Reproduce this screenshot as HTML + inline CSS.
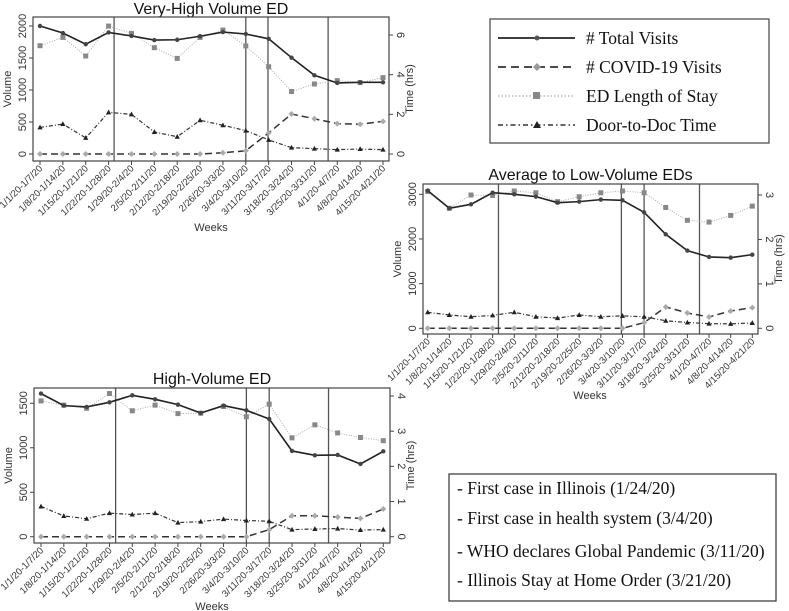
<!DOCTYPE html>
<html><head><meta charset="utf-8"><style>
body{margin:0;background:#fff;}
svg{display:block;font-family:"Liberation Sans",sans-serif;}
.lg{font-family:"Liberation Serif",serif;font-size:17.5px;fill:#111;}
</style></head><body>
<svg id="c" width="789" height="611" viewBox="0 0 789 611">
<g>
<rect x="490" y="19" width="279" height="124" fill="#fff" stroke="#444" stroke-width="1.2"/>
<line x1="498" y1="38" x2="575" y2="38" stroke="#222" stroke-width="1.8"/><circle cx="537" cy="38" r="2.5" fill="#555"/>
<text class="lg" x="586" y="44">&#35; Total Visits</text>
<line x1="498" y1="67" x2="575" y2="67" stroke="#333" stroke-width="1.8" stroke-dasharray="8,5"/><path d="M537,63 L541,67 L537,71 L533,67Z" fill="#999"/>
<text class="lg" x="586" y="73">&#35; COVID-19 Visits</text>
<line x1="498" y1="96" x2="575" y2="96" stroke="#aaa" stroke-width="1.2" stroke-dasharray="1.5,2"/><rect x="533" y="92" width="7" height="7" fill="#888"/>
<text class="lg" x="586" y="102">ED Length of Stay</text>
<line x1="498" y1="125" x2="575" y2="125" stroke="#333" stroke-width="1.5" stroke-dasharray="5,3,1.5,3"/><path d="M537,121 L541,128 L533,128Z" fill="#222"/>
<text class="lg" x="586" y="131">Door-to-Doc Time</text>
</g>
<g>
<rect x="449" y="474" width="327" height="127" fill="#fff" stroke="#333" stroke-width="1.2"/>
<text class="lg" x="457" y="494">- First case in Illinois (1/24/20)</text>
<text class="lg" x="457" y="524">- First case in health system (3/4/20)</text>
<text class="lg" x="457" y="557">- WHO declares Global Pandemic (3/11/20)</text>
<text class="lg" x="457" y="586">- Illinois Stay at Home Order (3/21/20)</text>
</g>
</svg>
<script>
const categories=["1/1/20-1/7/20","1/8/20-1/14/20","1/15/20-1/21/20","1/22/20-1/28/20","1/29/20-2/4/20","2/5/20-2/11/20","2/12/20-2/18/20","2/19/20-2/25/20","2/26/20-3/3/20","3/4/20-3/10/20","3/11/20-3/17/20","3/18/20-3/24/20","3/25/20-3/31/20","4/1/20-4/7/20","4/8/20-4/14/20","4/15/20-4/21/20"];
const vhTotal=[2000,1890,1715,1900,1845,1780,1785,1840,1905,1875,1800,1505,1230,1110,1120,1120];
const vhCovid=[0,0,0,0,0,0,0,0,20,50,330,625,550,475,465,510];
const vhLos=[5.46,5.88,4.94,6.45,6.08,5.36,4.82,5.88,6.25,5.45,4.40,3.15,3.53,3.70,3.60,3.85];
const vhD2d=[1.34,1.51,0.81,2.1,2.0,1.11,0.87,1.70,1.45,1.18,0.71,0.32,0.27,0.22,0.25,0.22];
const vhEvents=[3.24,9.0,9.97,12.6];
const vhLeftTicks=[0,500,1000,1500,2000];
const vhRightTicks=[0,2,4,6];
const alTotal=[3082,2687,2776,3037,3000,2948,2813,2836,2881,2866,2597,2104,1739,1597,1582,1649];
const alCovid=[0,0,0,0,0,0,0,0,0,0,127,478,343,254,388,463];
const alLos=[3.08,2.7,3.0,2.99,3.09,3.05,2.85,2.96,3.05,3.09,3.05,2.72,2.43,2.39,2.54,2.75];
const alD2d=[0.36,0.30,0.26,0.29,0.36,0.26,0.23,0.30,0.26,0.28,0.26,0.17,0.13,0.105,0.1,0.12];
const alEvents=[3.27,8.95,10.0,12.56];
const alLeftTicks=[0,1000,2000,3000];
const alRightTicks=[0,1,2,3];
const hvTotal=[1609,1474,1459,1511,1590,1545,1485,1391,1474,1421,1324,964,915,919,818,960];
const hvCovid=[0,0,0,0,0,0,0,0,0,0,79,236,236,220,206,311];
const hvLos=[3.86,3.74,3.65,4.07,3.58,3.74,3.50,3.51,3.70,3.41,3.77,2.81,3.18,2.95,2.82,2.73];
const hvD2d=[0.86,0.59,0.51,0.67,0.63,0.67,0.40,0.43,0.50,0.46,0.44,0.20,0.22,0.23,0.19,0.20];
const hvEvents=[3.27,9.0,10.0,12.6];
const hvLeftTicks=[0,500,1000,1500];
const hvRightTicks=[0,1,2,3,4];

const NS="http://www.w3.org/2000/svg";
const svg=document.getElementById('c');
function mk(tag,attrs,parent,txt){const e=document.createElementNS(NS,tag);for(const k in attrs)e.setAttribute(k,attrs[k]);if(txt!==undefined)e.textContent=txt;parent.appendChild(e);return e;}

function chart(cfg){
  const g=mk('g',{},svg);
  
  
  const [L,T,R,B]=cfg.box;
  const n=categories.length;
  const xs=i=>cfg.x0+(cfg.x1-cfg.x0)*i/(n-1);
  const yv=v=>cfg.base-(cfg.base-cfg.vTopY)*v/cfg.vTop;
  const yh=h=>cfg.base-(cfg.base-cfg.hTopY)*h/cfg.hTop;
  const t=mk('text',{x:(L+R)/2,y:cfg.titleY,'text-anchor':'middle','font-size':16,fill:'#111'},g,cfg.title);
  
  
  cfg.events.forEach(e=>{const l=mk('line',{x1:xs(e),x2:xs(e),y1:T,y2:B,stroke:'#555','stroke-width':1.3},g);
    
    });
  function series(vals,fy,style,marker,name){
    const pts=vals.map((v,i)=>[xs(i),fy(v)]);
    const p=mk('polyline',Object.assign({points:pts.map(q=>q.join(',')).join(' '),fill:'none'},style),g);
    
    
    pts.forEach(([x,y])=>{let m;
      if(marker==='c')m=mk('circle',{cx:x,cy:y,r:2.2,fill:'#444'},g);
      else if(marker==='d')m=mk('path',{d:`M${x},${y-3}L${x+3},${y}L${x},${y+3}L${x-3},${y}Z`,fill:'#aaa'},g);
      else if(marker==='s')m=mk('rect',{x:x-2.5,y:y-2.5,width:5,height:5,fill:'#888'},g);
      else m=mk('path',{d:`M${x},${y-2.8}L${x+2.6},${y+2}L${x-2.6},${y+2}Z`,fill:'#222'},g);
      
      });
  }
  series(cfg.d2d,yh,{stroke:'#333','stroke-width':1.2,'stroke-dasharray':'4,2,1,2'},'t','door-to-doc');
  series(cfg.los,yh,{stroke:'#aaa','stroke-width':1,'stroke-dasharray':'1,1.5'},'s','length-of-stay');
  series(cfg.covid,yv,{stroke:'#333','stroke-width':1.5,'stroke-dasharray':'7,4'},'d','covid-visits');
  series(cfg.total,yv,{stroke:'#222','stroke-width':1.6},'c','total-visits');
  const bx=mk('rect',{x:L,y:T,width:R-L,height:B-T,fill:'none',stroke:'#444','stroke-width':1.2},g);
  
  
  cfg.left.forEach(v=>{const y=yv(v);mk('line',{x1:L-4,x2:L,y1:y,y2:y,stroke:'#444'},g);
    const tx=mk('text',{x:L-7,y:y,'text-anchor':'middle','font-size':11,fill:'#333',transform:`rotate(-90 ${L-7} ${y})`},g,String(v));
    
    });
  cfg.right.forEach(v=>{const y=yh(v);mk('line',{x1:R,x2:R+4,y1:y,y2:y,stroke:'#444'},g);
    const tx=mk('text',{x:R+8,y:y,'text-anchor':'middle','font-size':11,fill:'#333',transform:`rotate(90 ${R+8} ${y})`},g,String(v));
    
    });
  categories.forEach((c,i)=>{const x=xs(i);mk('line',{x1:x,x2:x,y1:B,y2:B+4,stroke:'#444'},g);
    const tx=mk('text',{x:x+3,y:B+8,'text-anchor':'end','font-size':9.5,fill:'#333',transform:`rotate(-45 ${x+3} ${B+8})`},g,c);
    
    });
  const wk=mk('text',{x:cfg.weeksX,y:cfg.weeksY,'text-anchor':'middle','font-size':11,fill:'#333'},g,'Weeks');
  
  
  const vx=L-22,vy=(T+B)/2;
  const vl=mk('text',{x:vx,y:vy,'text-anchor':'middle','font-size':11,fill:'#333',transform:`rotate(-90 ${vx} ${vy})`},g,'Volume');
  
  
  const rx=R+24;
  const rl=mk('text',{x:rx,y:vy,'text-anchor':'middle','font-size':11,fill:'#333',transform:`rotate(-90 ${rx} ${vy})`},g,'Time (hrs)');
  
  
}
chart({name:'very-high-volume-chart',title:'Very-High Volume ED',titleY:14,box:[33,17,389,161],x0:40,x1:383,base:154,vTop:2000,vTopY:26,hTop:6,hTopY:35,
  total:vhTotal,covid:vhCovid,los:vhLos,d2d:vhD2d,events:vhEvents,left:vhLeftTicks,right:vhRightTicks,weeksX:211,weeksY:231});
chart({name:'average-low-volume-chart',title:'Average to Low-Volume EDs',titleY:180,box:[423,184,758,334],x0:427.7,x1:752.3,base:328.3,vTop:3000,vTopY:194.3,hTop:3,hTopY:195,
  total:alTotal,covid:alCovid,los:alLos,d2d:alD2d,events:alEvents,left:alLeftTicks,right:alRightTicks,weeksX:590,weeksY:399});
chart({name:'high-volume-chart',title:'High-Volume ED',titleY:384,box:[34,388,390,543],x0:41,x1:383.3,base:536.7,vTop:1500,vTopY:403.3,hTop:4,hTopY:396,
  total:hvTotal,covid:hvCovid,los:hvLos,d2d:hvD2d,events:hvEvents,left:hvLeftTicks,right:hvRightTicks,weeksX:212,weeksY:610});
</script>
</body></html>
